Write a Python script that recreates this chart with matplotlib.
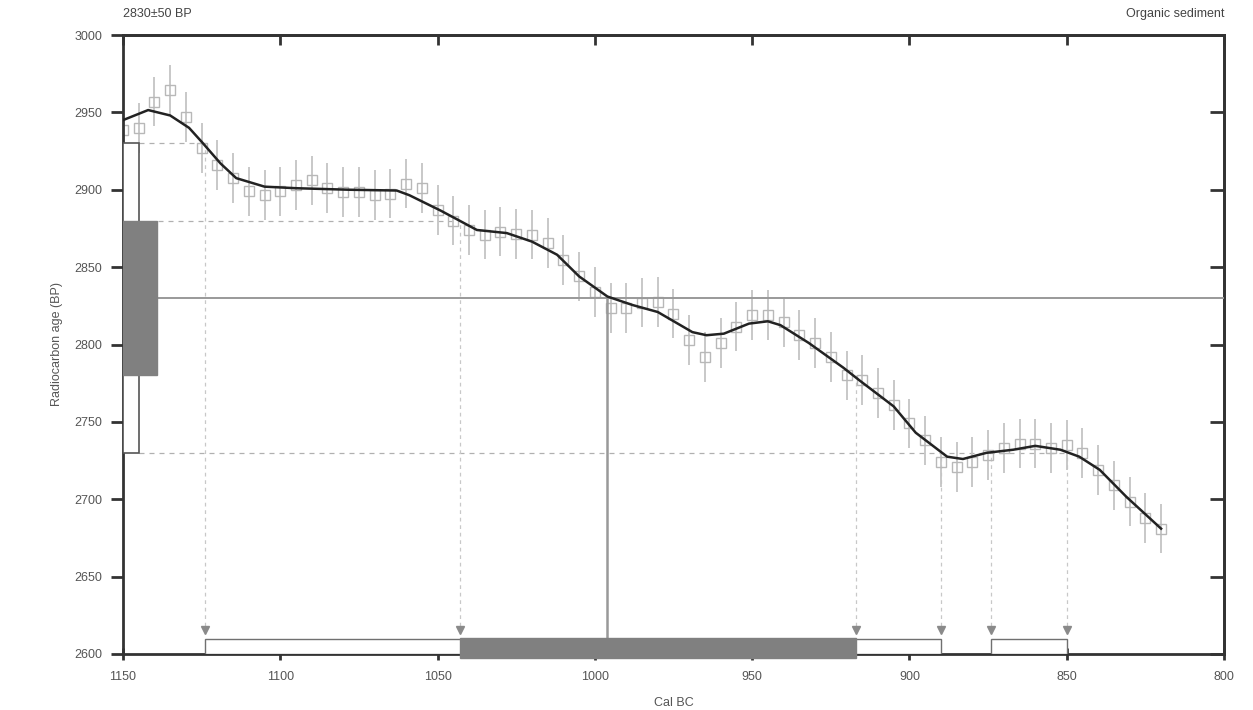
import numpy as np
import matplotlib
matplotlib.use("Agg")
import matplotlib.pyplot as plt
from matplotlib.patches import Rectangle
import matplotlib.transforms as mtransforms

plt.rcParams['font.family'] = ['Liberation Sans', 'DejaVu Sans']

# sample date
c14_age = 2830
c14_err = 50

# calibration curve (black line)
curve_year = [1150, 1142, 1135, 1129, 1125, 1119, 1114, 1105, 1095, 1078, 1063, 1059,
              1049, 1043, 1037.5, 1028, 1020, 1012, 1005, 996, 988, 980, 969, 964.5,
              959, 951, 945, 941, 932, 921, 916, 905, 898, 888, 883, 875.5, 867, 860,
              852, 846, 839.5, 831, 820]
curve_bp = [2945, 2951.5, 2948, 2940, 2931, 2917, 2907.5, 2902, 2901, 2900, 2899.5, 2896.5,
            2886.5, 2880, 2874, 2872, 2866.5, 2858, 2844, 2831, 2825.5, 2821, 2808, 2806,
            2807, 2813.5, 2815, 2812.5, 2801, 2785, 2777, 2760, 2743, 2727.5, 2726, 2730,
            2732, 2734.5, 2732, 2727.5, 2719, 2701.5, 2681]

# curve data points every 5 years (grey boxes with error bars)
pt_year = list(range(1150, 815, -5))
pt_bp = [2938.5, 2940, 2957, 2964.5, 2947, 2927, 2916, 2907.5, 2899, 2896.5,
         2899, 2903, 2906, 2901, 2898.5, 2898.5, 2896.5, 2897.5, 2904, 2901,
         2887, 2880, 2874, 2871, 2873, 2871.5, 2871, 2865.5, 2854.5, 2844,
         2834, 2823.5, 2823.5, 2827, 2827.5, 2820, 2803, 2792, 2801, 2811.5,
         2819, 2819, 2814.5, 2806, 2801, 2792, 2780, 2777, 2768.5, 2761,
         2749, 2738, 2724, 2721, 2724, 2728.5, 2733, 2736, 2736, 2733,
         2735, 2730, 2719, 2709, 2698.5, 2688, 2681]
pt_err = 16

# calibrated ranges (Cal BC)
range_1s = [(1043, 917)]
range_2s = [(1124, 890), (874, 850)]
median_year = 996

x_ticks = [1150, 1100, 1050, 1000, 950, 900, 850, 800]
y_ticks = list(range(2600, 3001, 50))

fig = plt.figure(figsize=(12.53, 7.10), dpi=100)
ax = fig.add_axes([123 / 1253, 1 - 654 / 710, (1224 - 123) / 1253, (654 - 35) / 710])
ax.set_xlim(1150, 800)
ax.set_ylim(2600, 3000)

grey = '#808080'
light = '#c4c4c4'

# curve points with error bars
ax.errorbar(pt_year, pt_bp, yerr=pt_err, fmt='s', ms=7, mfc='none', mec='#b8b8b8',
            mew=1.0, ecolor=light, elinewidth=1.3, capsize=0, zorder=2)
ax.plot(curve_year, curve_bp, color='#222222', lw=1.8, zorder=4)

# radiocarbon date boxes on the y axis
tr_y = mtransforms.blended_transform_factory(ax.transAxes, ax.transData)
ax.add_patch(Rectangle((0, c14_age - 2 * c14_err), 0.0145, 4 * c14_err, transform=tr_y,
                       facecolor='white', edgecolor='#555555', lw=1.2, zorder=5))
ax.add_patch(Rectangle((0, c14_age - c14_err), 0.031, 2 * c14_err, transform=tr_y,
                       facecolor=grey, edgecolor=grey, lw=1, zorder=6))

# intercept lines
ax.plot([1150 - 0.031 * 350, 800], [c14_age, c14_age], color='#999999', lw=1.4, zorder=3)
ax.plot([median_year, median_year], [2610, c14_age], color='#999999', lw=1.8, zorder=3)
dash = dict(color='#b0b0b0', lw=0.9, ls=(0, (4, 4)), zorder=1)
ax.plot([1145, range_2s[0][0]], [c14_age + 2 * c14_err] * 2, **dash)
ax.plot([1139, range_1s[0][0]], [c14_age + c14_err] * 2, **dash)
ax.plot([1145, range_2s[1][1]], [c14_age - 2 * c14_err] * 2, **dash)

vdash = dict(color='#c8c8c8', lw=0.9, ls=(0, (3, 3)), zorder=1)
ax.plot([range_2s[0][0]] * 2, [2618, c14_age + 2 * c14_err], **vdash)
ax.plot([range_1s[0][0]] * 2, [2618, c14_age + c14_err], **vdash)
ax.plot([range_1s[0][1]] * 2, [2618, c14_age - c14_err], **vdash)
for yr in [range_2s[0][1], range_2s[1][0], range_2s[1][1]]:
    ax.plot([yr, yr], [2618, c14_age - 2 * c14_err], **vdash)

# range bars at the bottom
for a, b in range_2s:
    ax.add_patch(Rectangle((b, 2600), a - b, 9.7, facecolor='white',
                           edgecolor='#707070', lw=1.0, zorder=5))
for a, b in range_1s:
    ax.add_patch(Rectangle((b, 2597.4), a - b, 12.9, facecolor=grey,
                           edgecolor=grey, lw=1, zorder=6, clip_on=False))
ends = [v for r in range_2s + range_1s for v in r]
ax.plot(ends, [2615.5] * len(ends), 'v', color='#8a8a8a', ms=6, zorder=7, ls='none')

# axes styling
ax.set_xticks(x_ticks)
ax.set_yticks(y_ticks)
ax.set_yticklabels([str(v) for v in y_ticks])
for s in ax.spines.values():
    s.set_linewidth(2)
    s.set_color('#333333')
ax.tick_params(axis='both', labelsize=9, colors='#333333', labelcolor='#555555')
ax.tick_params(axis='y', direction='out', length=9, width=2, pad=6)
ax.tick_params(axis='x', direction='inout', length=9, width=2, pad=8)

# inward ticks on top and right
top = ax.secondary_xaxis('top')
top.set_xticks(x_ticks)
top.tick_params(direction='in', length=7, width=2, colors='#333333', labeltop=False)
right = ax.secondary_yaxis('right')
right.set_yticks(y_ticks)
right.tick_params(direction='in', length=10, width=2, colors='#333333', labelright=False)
for sec in (top, right):
    for s in sec.spines.values():
        s.set_linewidth(2)
        s.set_color('#333333')

ax.set_xlabel('Cal BC', fontsize=9, color='#555555', labelpad=10)
ax.set_ylabel('Radiocarbon age (BP)', fontsize=9, color='#555555', labelpad=8)

fig.text(123 / 1253, 1 - 14 / 710, f'{c14_age}±{c14_err} BP', fontsize=9,
         color='#444444', ha='left', va='center')
fig.text(1224 / 1253, 1 - 14 / 710, 'Organic sediment', fontsize=9,
         color='#444444', ha='right', va='center')

fig.savefig('out.png', dpi=100, facecolor='white')
